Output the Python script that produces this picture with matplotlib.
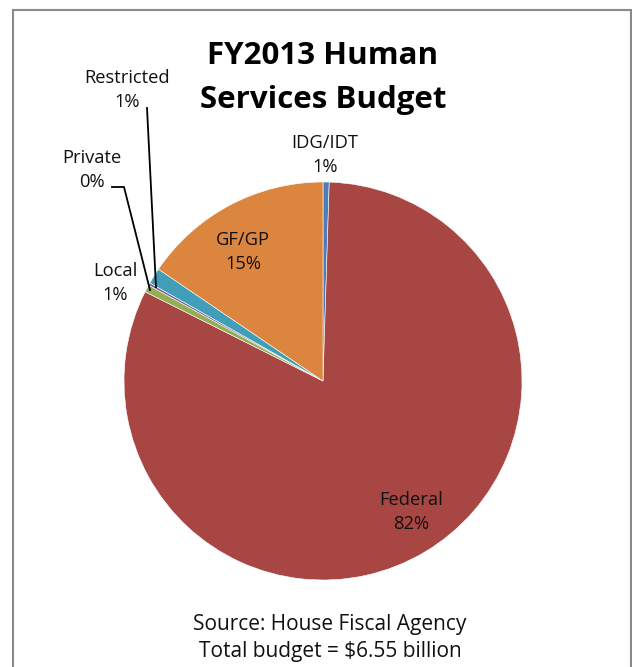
import matplotlib
matplotlib.use("Agg")
import matplotlib.pyplot as plt
from matplotlib.patches import Rectangle
from matplotlib.lines import Line2D

categories = ["IDG/IDT", "Federal", "Local", "Private", "Restricted", "GF/GP"]
values = [0.5, 81.9, 0.6, 0.2, 1.3, 15.5]
pct_labels = ["1%", "82%", "1%", "0%", "1%", "15%"]
colors = ["#4A7EBB", "#A84644", "#93AE53", "#7B5F9D", "#419EB8", "#DC853E"]

W, H = 632, 667
fig = plt.figure(figsize=(W / 100, H / 100), dpi=100)
plt.rcParams['font.family'] = ['Open Sans', 'DejaVu Sans']

def fx(x): return x / W
def fy(y): return 1 - y / H

# frame
fig.patches.append(Rectangle((fx(13), fy(700)), fx(631) - fx(13), fy(10) - fy(700),
                             transform=fig.transFigure, fill=False,
                             edgecolor="#8a8a8a", linewidth=1.5))

cx, cy, r = 323, 381, 199
ax = fig.add_axes([fx(cx - r), fy(cy + r), 2 * r / W, 2 * r / H])
ax.pie(values, colors=colors, startangle=90, counterclock=False, radius=1,
       wedgeprops=dict(edgecolor="white", linewidth=0.4))
ax.set_xlim(-1, 1)
ax.set_ylim(-1, 1)
ax.axis("off")

def px2data(x, y):
    return ((x - cx) / r, (cy - y) / r)

lab_pos = {
    "IDG/IDT": (325, 155),
    "Federal": (411, 512),
    "Local": (115, 283),
    "Private": (92, 170),
    "Restricted": (127, 90),
    "GF/GP": (243, 252),
}
for c, p in zip(categories, pct_labels):
    x, y = lab_pos[c]
    ax.text(*px2data(x, y), f"{c}\n{p}", ha="center", va="center",
            fontsize=13.2, color="#111111", linespacing=1.4, clip_on=False)

# leader lines
for xs, ys in [([112, 124, 150], [187, 187, 290]), ([147, 147, 156], [108, 108, 287])]:
    pts = [px2data(x, y) for x, y in zip(xs, ys)]
    ax.add_line(Line2D([p[0] for p in pts], [p[1] for p in pts], color="black",
                       linewidth=1.3, clip_on=False))

fig.text(fx(323), fy(78), "FY2013 Human\nServices Budget", ha="center", va="center",
         fontsize=22.5, fontweight="bold", linespacing=1.58, color="black")
fig.text(fx(330), fy(638), "Source: House Fiscal Agency\nTotal budget = $6.55 billion",
         ha="center", va="center", fontsize=15, linespacing=1.4, color="#111111")

fig.savefig("out.png", dpi=100, facecolor="white")
